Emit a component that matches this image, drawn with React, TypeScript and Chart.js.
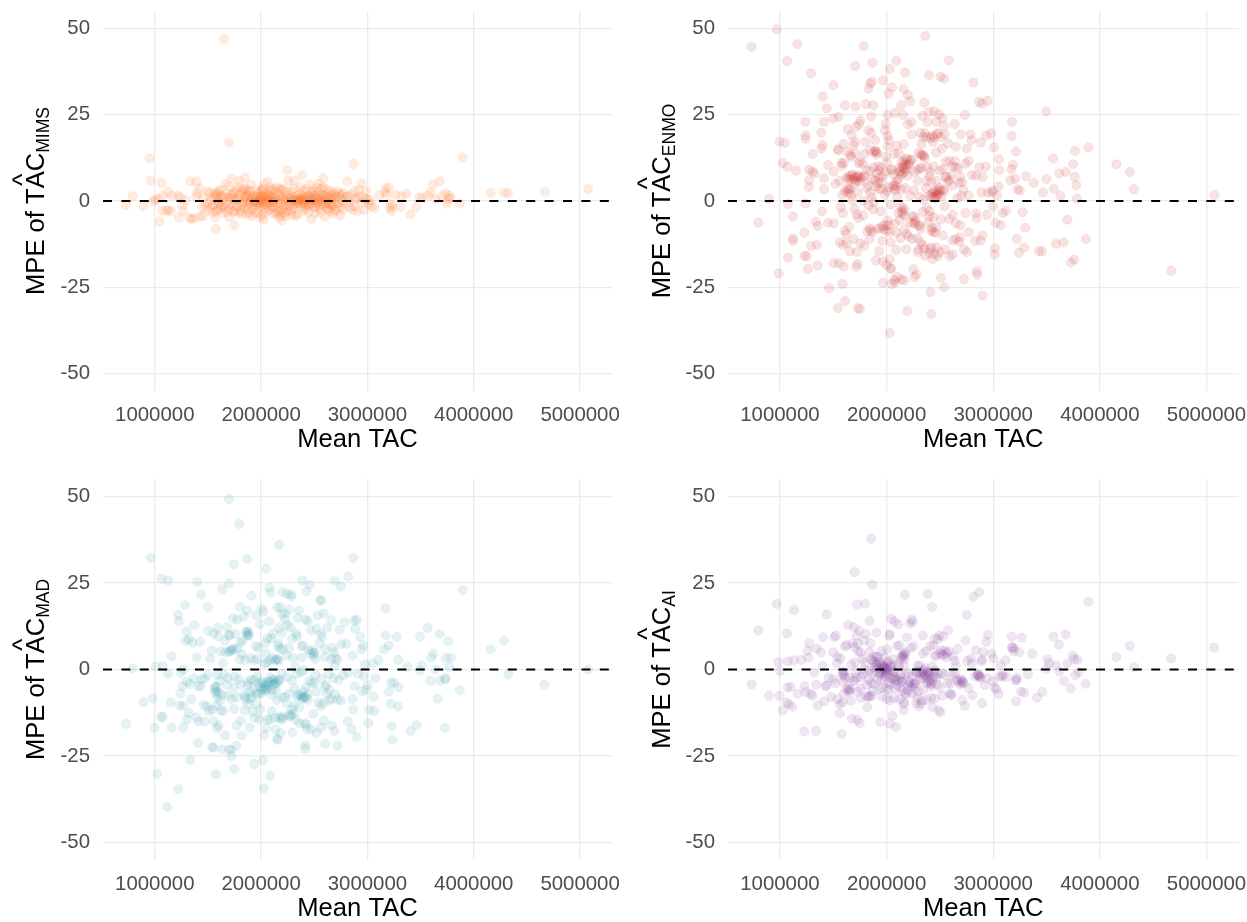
import React, { useEffect, useRef } from "react";
import { Chart, registerables } from "chart.js";

Chart.register(...registerables);

const TAC_UNIT = 1000;
const tacTicks = [1000000, 2000000, 3000000, 4000000, 5000000];
const mpeTicks = [-50, -25, 0, 25, 50];
const xLimits = [513000, 5300000];
const yLimits = [-55, 55];

// [mean TAC in thousands, MPE]
const mimsPoints = [
[1653,46.9],[1698,16.9],[951,12.3],[3895,12.6],[2868,10.7],[2245,8.9],[2389,7.5],[2585,6.6],[1721,6.6],[1849,6.8],[1793,5.8],[962,5.9],[1064,5.3],[1332,5.7],[1392,5.6],[2811,5.7],[2944,5.1],[3680,5.7],[3615,4.8],[4159,2.3],[4283,2.5],[4321,2.3],[4668,2.7],[5076,3.5],[1125,2.7],[792,1.4],[728,-1.2],[894,-1.5],[1045,-6],[1574,-8.1],[1747,-7.1],[3404,-3.9],[3461,-1.8],[3868,-0.7],
[989,-0.2],[1000,0.5],[1030,0.6],[1075,1.4],[1110,-2.8],[1070,-2.8],[1150,-3],[1160,1.6],[1125,-2.6],[1220,1.5],[1240,1],[1225,-4.8],[1260,-1.2],[1265,-2.9],[1290,0.3],[1330,-5],[1345,-5.2],[1370,-5],[1390,1.2],[1400,2.4],[1420,3.6],[1430,-4.5],[1445,-1.8],[1455,-4.3],[1460,0.8],[1500,2.8],[1520,2.4],[1540,-1.6],[1555,1.2],[1570,-4.8],[1575,-3],[1580,2.4],[1590,0.6],[1600,-0.8],[1610,2.8],[1620,-2.2],[1625,1.6],[1640,0.4],[1655,-1.8],[1665,5],[1680,-3.2],[1695,4.2],[1700,-4.6],[1715,2],[1725,0.8],[1735,-1.3],[1745,2.4],[1755,-2.8],[1770,0.5],[1780,4],[1790,-3.4],[1800,1.6],[1815,-0.6],[1825,3],[1835,-2],[1845,0.9],[1855,3.8],[1860,1.8],[1870,2.8],[1880,-1],[1885,0.3],[1895,-3.4],[1905,4.8],[1915,1.1],[1925,-1.4],[1935,0.1],[1945,-3.5],[1955,1.4],[1965,-0.4],[1975,2.2],[1985,-1.8],[1995,0.6],[2000,-0.2],[2010,3.2],[2015,-4],[2020,1.2],[2025,-5.4],[2030,4.8],[2040,0.3],[2045,-1.1],[2055,2.2],[2060,5.6],[2070,0.8],[2075,-2.4],[2085,1.6],[2090,-0.4],[2100,3.2],[2110,0.1],[2120,-1.8],[2130,1.2],[2135,-3.6],[2145,4],[2150,-0.7],[2160,2.4],[2165,-4.8],[2175,0.6],[2180,-2.8],[2190,3.2],[2195,-5.6],[2205,1],[2215,-1.5],[2225,0.2],[2235,2.6],[2245,-3],[2255,5.8],[2265,0.9],[2275,-1.2],[2285,2.8],[2295,0.3],[2305,-2.2],[2315,5.9],[2325,-4.4],[2335,1.4],[2345,-0.8],[2355,0.4],[2365,2],[2375,-1.6],[2385,0.7],[2395,-2.9],[2405,1.2],[2415,-0.3],[2425,3.4],[2435,0.5],[2445,-1.4],[2455,4.8],[2465,1.8],[2470,-5.2],[2480,0.2],[2490,3],[2500,-1.8],[2510,0.7],[2520,-0.4],[2530,2.6],[2540,5],[2550,-2.2],[2560,0.9],[2570,3.6],[2580,-0.6],[2590,1.5],[2600,-4.6],[2610,0.3],[2620,-2],[2630,1.9],[2640,-0.9],[2650,2.8],[2660,-1.3],[2670,0.5],[2680,2.2],[2690,-2.6],[2700,0.9],[2715,2.9],[2730,-0.4],[2745,-4.2],[2760,1.6],[2775,2.3],[2790,-0.9],[2815,1.4],[2835,-1.8],[2860,-2.6],[2875,2.8],[2890,0.6],[2905,-3],[2920,3.2],[2945,1.2],[2965,-2.6],[2990,2.8],[3000,0.4],[3015,-0.8],[3040,-1.6],[3065,-2.1],[3110,1.6],[3165,2.6],[3175,3.6],[3200,3.9],[3210,-2],[3225,-2.9],[3235,-1.5],[3265,1.9],[3310,-1.8],[3320,1.4],[3365,2],[3490,1],[3515,0.9],[3570,1.6],[3595,2.4],[3640,0.4],[3700,1.4],[3735,2.2],[3745,-0.8],[3760,0.5],[3770,1.5],[3780,0.9]
];
const mimsCorePoints = [
[1530,0.4],[1560,-1],[1585,1.6],[1605,-0.2],[1630,-1.4],[1650,1.2],[1670,-0.6],[1690,0.9],[1710,-0.9],[1730,1.6],[1750,0.2],[1775,-1.6],[1795,0.4],[1810,2.2],[1830,-1],[1850,-0.2],[1865,1.2],[1875,-2.4],[1890,1.7],[1900,-0.6],[1910,0.5],[1920,-2.2],[1930,1.5],[1940,-0.4],[1950,0.2],[1958,-1.2],[1968,1],[1978,-0.6],[1988,0.5],[1998,1.4],[2005,-1.2],[2012,0.3],[2022,-0.5],[2032,1.8],[2038,-2.2],[2048,0.9],[2052,-0.2],[2062,-1.4],[2068,1.5],[2078,-0.4],[2082,2.6],[2095,0.5],[2105,-1.2],[2115,1],[2125,-0.3],[2140,0.7],[2155,-2],[2170,1.6],[2185,-0.8],[2200,-2.4],[2210,0.4],[2222,-3.4],[2232,-0.6],[2242,0.9],[2252,-1.6],[2262,1.8],[2272,-0.2],[2282,-2.8],[2292,1.1],[2302,0.2],[2312,-0.9],[2322,0.6],[2332,-0.2],[2342,0.5],[2352,-0.6],[2362,0.2],[2372,1],[2382,-0.4],[2392,0.3],[2402,-0.8],[2412,0.7],[2422,-1.2],[2432,1.5],[2442,-0.3],[2452,0.6],[2462,-1],[2472,1.2],[2482,-0.6],[2492,0.4],[2502,1.8],[2512,-1.4],[2522,0.9],[2532,-0.5],[2542,0.3],[2552,1.5],[2562,-1.2],[2572,0.4],[2582,1.8],[2592,-1.6],[2602,0.7],[2612,-0.7],[2625,1.2],[2635,-2.4],[2645,0.5],[2655,-0.4],[2665,1.4],[2675,-1],[2695,1.8],[2710,-0.6],[2725,1],[2740,-1.8],[2770,0.2],[2800,1.2],[2825,-0.2],[2850,1.8],[2880,-1.4],[2910,1],[2950,-0.5],[2980,0.6],[3030,0.2],[3180,1.7],[3220,-1],
[1480,-1.6],[1500,-0.6],[1510,-2.4],[1545,-3.4],[1565,2],[1595,-2.4],[1615,3.2],[1645,-3.4],[1675,2],[1705,-2.2],[1740,-3.2],[1765,3],[1805,-2.8],[1820,-3.6],[1842,3.4],[1868,-3.8],[1898,3],[1912,-4.4],[1952,3.2],[1972,-3.4],[1992,-4.6],[2002,2.8],[2018,3.6],[2058,-3],[2088,3.8],[2112,-3.6],[2122,3.4],[2148,-3.2],[2178,3.6],[2188,-4.2],[2212,3.4],[2228,-4.4],[2288,-4],[2308,3.6],[2338,-3.8],[2368,3.8],[2398,3],[2418,-2.4],[2448,-3.2],[2478,2.6],[2508,-3.6],[2528,3.8],[2558,-3.4],[2588,4],[2618,3.2],[2648,-3],[2678,-3.6],[2708,-2.8],[2738,2.2],[2768,-2.4]
];

const enmoPoints = [
[734,44.6],[797,-6.3],[897,0.6],[970,49.7],[989,-21],[996,17.2],[1044,16.8],[1026,11],[1070,9.9],[1066,40.5],[1074,-0.9],[1074,-16.4],[1122,-4.5],[1122,-10.8],[1125,-11.6],[1151,8.8],[1162,45.4],[1229,-9.2],[1229,-15.8],[1240,19],[1240,18],[1240,-0.7],[1240,22.9],[1251,-16],[1262,-19.7],[1273,9],[1273,6],[1273,4],[1292,36.9],[1292,-13],[1306,13.6],[1306,8.5],[1325,8],[1336,-6],[1347,-12.7],[1354,-7.2],[1354,-18.7],[1402,30.3],[1387,19.8],[1399,16.2],[1389,15.2],[1395,-3],[1413,22.9],[1413,6.6],[1413,3.4],[1439,26.8],[1450,10.4],[1450,-6.3],[1461,-25.2],[1498,23.9],[1502,33.5],[1505,-6.5],[1505,-18],[1505,8.5],[1520,5],[1542,15],[1550,24.4],[1542,-31],[1553,-18],[1561,-12],[1579,11],[1587,-24],[1590,-12.7],[1598,-19],[1609,27.7],[1612,-29],
[1786,44.8],[1867,40],[1705,39.1],[2092,40.6],[2030,38.2],[2173,37.2],[2362,47.8],[2399,36.4],[2506,36],[2539,35.4],[2583,40.7],[2815,34.3],[1967,34.9],[1863,34.5],[1845,34],[1830,32.5],[2052,32.9],[2018,31.1],[2159,32.4],[2199,30.7],[2221,28.9],[2137,27.7],[1808,28],[1875,27.7],[1708,27.4],[2354,28.5],[2867,28.7],[2897,28.2],[2948,29],[3498,25.9],[2011,24.9],[2081,25.5],[2159,24.9],[2336,24.6],[2395,25.8],[2446,26],[2491,25.1],[2524,24],[2734,24.9],[3177,22.9],[1856,24.5],[1753,23.3],[1742,22.3],[1716,21.5],[1635,20.8],[1830,20.5],[1856,19.7],[1993,22.3],[1985,20.5],[2232,22.8],[2199,22.2],[2384,22.8],[2465,22.9],[2539,21.7],[2638,22.3],[2236,19.3],[2317,19.7],[2358,19.6],[2428,18.9],[2483,19.6],[2546,19.3],[2694,19.3],[2786,19.3],[2982,19.6],[3174,18.8],[2934,18.9],[1672,19.1],[1708,17.1],[1801,17.1],[1893,17.6],[2011,18.8],[2022,17.6],[2011,15.7],[2162,16.5],[2328,16.5],[2435,17.1],[2576,16.7],[2650,15.7],[2797,17.6],[2882,16.9],[3007,15.5],[2753,15.2],[3768,14.5],[3893,15.5],[3214,14.3],[1598,16.5],[1550,14.7],[1708,13.8],[1661,13.3],[1793,13.6],[1900,14.3],[1911,14],[1993,12.8],[2114,13.8],[2343,13.3],[2465,14],[2520,15.2],[3561,12.3],[3055,12.1],
[1738,10.9],[1750,11.4],[1600,11],[1580,10.2],[1650,6.6],[1670,7.4],[1690,6.3],[1720,6.9],[1740,7.1],[1760,6.5],[1790,7.2],[1810,9],[1840,8.7],[1880,9.8],[1905,8],[1930,8.9],[1960,7.2],[1990,8.5],[2020,4],[2045,8.9],[2070,3.5],[2090,4.2],[2110,6.4],[2130,8.6],[2150,9.9],[2160,11.5],[2175,8.5],[2185,10.3],[2195,12.2],[2200,7.4],[2215,11],[2240,12],[2260,8.4],[2290,9],[2320,13.5],[2350,13],[2380,9.8],[2410,8.4],[2440,10],[2470,5.8],[2500,8.8],[2530,9.2],[2555,11.4],[2590,11.6],[2620,10],[2650,9.8],[2680,5.2],[2710,5.5],[2740,10.8],[2770,11.6],[2800,7.5],[2840,7.3],[2870,9.8],[2900,7],[2930,9.9],[3055,8.9],[3050,4.2],[3160,6],[3170,9.2],[3185,10.5],[3205,6.4],[3230,3.4],[3250,3],[3310,7.2],[3380,5.2],[3465,2.5],[3500,6.3],[3570,3.5],[3620,8],[3630,1.5],[3680,8.4],[3750,10.6],[3765,7],[3780,4.6],[3785,0.7],[4155,10.6],[4280,8.4],[4320,3.4],[5075,1.7],[2950,2.4],[2890,2.4],[2990,2.5],[2995,3],[3035,1.6],
[1560,5.8],[1585,1.8],[1610,2.8],[1630,3.6],[1650,3.2],[1680,0.3],[1700,5],[1730,2.5],[1780,0],[1830,4.5],[1860,1],[1880,-0.5],[1920,5.2],[1950,3.5],[1985,1.8],[2005,2.8],[2040,-1],[2065,7.7],[2100,1.2],[2140,3.3],[2175,3.8],[2220,1.6],[2255,3.1],[2290,5.8],[2310,1.1],[2345,0.5],[2370,3.7],[2400,1.5],[2425,2],[2445,1.3],[2465,2.5],[2485,1.7],[2505,3],[2530,3.3],[2560,6.8],[2590,6],[2620,4.5],[2665,0.8],[2700,1.5],[2770,1.6],
[1570,-1.8],[1590,-3.5],[1610,-8.6],[1620,-9.6],[1650,-7.5],[1700,-2.3],[1720,-3.9],[1735,-5],[1780,-4.2],[1820,-8.8],[1850,-8.5],[1875,-2.4],[1915,-8],[1945,-3],[1965,-7.2],[1990,-7],[2010,-5.6],[2030,-9],[2075,-6.5],[2110,-3.5],[2130,-1.5],[2150,-3.7],[2170,-2.8],[2190,-9.5],[2220,-6.2],[2245,-4.4],[2265,-6.4],[2290,-10.8],[2310,-7.2],[2340,-3.2],[2375,-2],[2400,-4.5],[2415,-8.6],[2440,-4.7],[2465,-7.7],[2510,-5.4],[2545,-1.6],[2590,-5.2],[2620,-4],[2650,-6.5],[2690,-7],[2740,-3.5],[2770,-9],[2840,-3.6],[2845,-5],[2940,-4],[3000,-1.6],[3025,-6.3],[3070,-7],[3090,-3.5],[3120,-2.8],[3275,-3.3],[3300,-7.7],[3695,-5.4],
[1625,-12.2],[1655,-14.5],[1690,-11],[1720,-14.8],[1755,-12.3],[1790,-13],[1840,-11],[1930,-14.5],[1960,-11.5],[2040,-12],[2090,-14.2],[2130,-10.7],[2185,-14],[2240,-11],[2290,-14.8],[2320,-12],[2355,-13.7],[2400,-15],[2420,-13.5],[2450,-15.3],[2480,-16],[2530,-10],[2590,-16],[2620,-15.5],[2650,-11],[2690,-10.5],[2725,-14],[2755,-14.8],[2830,-11.5],[2880,-11.5],[2900,-10],[3015,-13.7],[3015,-15.5],[3220,-11],[3240,-15],[3290,-13.5],[3430,-14.5],[3460,-14.5],[3590,-12.4],[3660,-12],[3730,-17.8],[3760,-17],[3870,-11],[4670,-20.2],
[1715,-19],[1730,-18.2],[1900,-17.2],[1965,-17.5],[2000,-18.5],[2030,-16.9],[2035,-19.5],[2045,-19.6],[2070,-22.8],[2100,-22],[2140,-22.7],[2165,-23],[2250,-19.7],[2260,-22],[2280,-21.3],[1965,-23.7],[2080,-23.5],[2050,-24],[2510,-22.3],[2540,-25],[2725,-22.6],[2845,-20.3],[2850,-21.3],[2900,-27.4],[2410,-26.4],[1730,-31],[1750,-31.3],[2195,-31.8],[2420,-32.7],[2030,-38.2]
];
const enmoCorePoints = [
[1625,6.5],[1640,7.2],[1660,6.2],[1680,7.6],[1700,6.8],[1715,5.8],[1730,7.4],[1750,5.6],[1770,6.8],[1640,2.4],[1655,3.5],[1665,1.8],[1860,6.4],[1890,6],[1900,4.2],[1925,3.5],[1935,6.7],[1950,5.5],[1880,14.2],[1895,14.6],[1905,13.4],[2140,11.2],[2150,8],[2160,9.5],[2170,10.6],[2180,12.2],[2190,9.4],[2205,10.4],[2225,11.8],[2115,8.4],[2125,9.6],[2135,7.6],[2060,4.4],[2075,4.8],[2085,3.2],[2095,5.6],[2140,-3],[2155,-2],[2165,-4.2],[2250,-6.5],[2260,-4.6],[2270,-5.6],[2300,-7],[2320,-8],[2425,1.2],[2435,2.5],[2450,2.9],[2460,0.8],[2470,1.6],[2480,3.2],[2490,2.2],[2495,3.8],[2515,1.4],[2540,3],[2425,-7.8],[2440,-9],[2455,-9.2],[2390,-6.2],[2405,-3],[2330,9.6],[2310,9.4],[2360,12.4],[2375,5.8],[2400,7.2],[2420,5.5],[2555,7],[2575,5.6],[2605,7.4],[2640,11.5],[2670,9.4],[2690,7],[2720,3.2],[2300,14],[2330,13.2],[2345,18.4],[2375,18.6],[2410,18.2],[2445,18.4],[2470,19.4],[2510,18.6],[1830,-1.3],[1845,2.2],[1815,3.8],[1840,-8],[1870,-9],[1945,-7.8],[1975,-8.2],[2005,-8.6],[2020,-7],[2095,-9.2],[2125,-5.5],[2165,-8.2],[2205,-10.2],[2300,-14],[2340,-12.8],[2360,-15.8],[2410,-14],[2430,-16.8],[2620,-11.4],[2680,-11.8],[2550,-14],[2500,-14.8],[2470,-13.4],[2005,11.2],[1950,9.8],[1920,10],[1845,14.8],[1780,10.8],[1670,12.8],[1635,14.2],[1690,16.2],[2095,16],[2070,13.6],[2050,9.2]
];

const madPoints = [
[1698,49.2],[1793,42],[2170,36],[962,32.2],[1868,31.9],[2868,32.2],[1743,30.3],[2049,29.1],[1064,26.3],[1125,25.7],[2819,26.8],[2691,25.6],[2389,25.7],[2457,24.5],[2751,24],[1400,25.3],[1698,24.9],[1634,23.1],[2076,23.6],[3895,22.9],[2427,22.6],[2200,22.4],[2087,22.2],[2242,21.8],[2283,21.7],[2285,21],[1434,21.7],[1910,21.3],[2556,20],[2566,20],[1498,18],[1283,18.6],[1800,18.1],[3170,17.6],
[1117,-39.7],[1219,-34.6],[2026,-34.3],[1023,-30.1],[1574,-30.2],[2083,-30.7],[1747,-28.7],[1936,-27.3],[2019,-26.2],[1332,-26.1],[1721,-25],[2415,-22.9],[2415,-21.9],[2604,-21.5],[2721,-22],[1540,-22.4],[1550,-22.6],[1634,-23.1],[1698,-23.1],[1720,-23.2],[1766,-22],[1408,-21.2],[2151,-20],[2155,-20.3],[3234,-20.2],[2895,-19.5],[728,-15.7],[996,-16.9],[1060,-13.7],[1075,-13.7],[1158,-16.7],[1268,-16.8],[3404,-17.8],[3461,-16.1],[3729,-16.9],[3227,-16.3],[3008,-15.5],[3660,-8.4],[3287,-10.7],[3219,-9.9],[3868,-6],[4664,-4.4],[4325,-1.4],[5076,0],[4159,5.8],[4283,8.4],[792,0.3],[894,-9.4],[981,-8.4],
[1010,0.9],[1075,1],[1125,-1.2],[1158,3.8],[1219,15.8],[1225,14],[1240,-6.9],[1245,-1],[1270,0],[1300,11],[1290,8.3],[1320,8.7],[1355,7.8],[1375,12.8],[1395,3.5],[1425,8],[1440,-2.8],[1470,-2.6],[1500,11.2],[1520,3.2],[1535,5.5],[1555,10.4],[1590,12],[1600,9.6],[1620,5.2],[1665,5],[1680,12.2],[1700,9.8],[1720,5.4],[1735,14.8],[1745,5.8],[1755,10.2],[1775,14.4],[1805,7.8],[1820,4.4],[1840,15.3],[1860,11],[1870,17],[1880,10.2],[1885,9.8],[1900,3.3],[1935,2.7],[1955,15.6],[1975,6.2],[1990,13],[2005,17.6],[2020,16.7],[2040,7.6],[2055,2],[2075,13.9],[2095,9],[2110,3.3],[2130,2.6],[2150,17.9],[2165,7.6],[2180,18],[2195,16],[2205,5.8],[2225,14.5],[2245,12.8],[2265,17.2],[2275,12.2],[2300,3.5],[2330,10.4],[2340,9.6],[2355,17],[2380,6.8],[2395,6.9],[2415,14.4],[2445,5.6],[2470,11.2],[2490,4.8],[2505,4.9],[2520,11.8],[2530,15.6],[2560,10.2],[2575,9.4],[2590,16.2],[2600,3.6],[2620,12],[2660,14.3],[2670,6.3],[2685,5],[2700,3.3],[2740,11.5],[2755,7.3],[2785,13.7],[2800,7.4],[2860,4],[2875,14.2],[2885,11.8],[2900,14.4],[2945,5.9],[2930,9.5],[2960,7],[2980,1.5],[3050,1.7],[3105,2.8],[3155,5.8],[3170,9.9],[3200,6.9],[3275,9.4],[3290,2.8],[3375,0.8],[3495,9.5],[3510,1.2],[3565,12],[3600,3.4],[3620,4.6],[3640,0],[3680,10.2],[3735,3.3],[3760,8.2],[3785,3.4],[3770,0.8],[3490,-0.3],
[1150,-9.5],[1235,-10.4],[1270,-10.5],[1300,-14.4],[1320,-12.6],[1345,-8.6],[1390,-13.8],[1410,-15],[1430,-4.8],[1460,-10.2],[1470,-15],[1490,-10.7],[1510,-12],[1540,-11.5],[1555,-15],[1570,-5],[1575,-6.2],[1585,-17],[1600,-16.2],[1615,-9],[1630,-7.3],[1645,-12],[1660,-19],[1680,-4.4],[1725,-8.5],[1745,-11.4],[1770,-16.2],[1790,-2.8],[1810,-14.8],[1820,-19],[1850,-8],[1870,-4.5],[1895,-16.8],[1920,-12.2],[1940,-14],[1955,-7],[1975,-4],[1990,-11.5],[2005,-5.6],[2030,-19],[2045,-16.9],[2060,-3.5],[2080,-14.4],[2100,-12],[2115,-4.2],[2135,-17.3],[2150,-8.8],[2165,-3],[2185,-18.4],[2205,-14],[2225,-7.9],[2240,-9.8],[2260,-13.4],[2275,-12.9],[2295,-18.2],[2310,-10.6],[2330,-14.5],[2345,-7.3],[2360,-15.5],[2385,-7.9],[2400,-8],[2420,-16],[2440,-8.8],[2470,-17.3],[2500,-3.8],[2520,-18.3],[2540,-9.5],[2565,-16.8],[2590,-14.8],[2610,-4.5],[2640,-8.9],[2665,-16.2],[2690,-17.8],[2720,-8.6],[2750,-9],[2815,-15],[2850,-17.2],[2868,-11.5],[2860,-8.5],[2880,-4.8],[2950,-6.3],[3000,-4.5],[3015,-11.7],[3065,-12],[3060,-7.8],[3075,-2.5],[3200,-6.4],[3220,-3.8],[3250,-3.8],[3290,-5.1],[3590,-3.3],[3680,-3.2],[3735,-2.7],[3730,-2.7],
[1260,-4.8],[1300,-3.5],[1330,-4.2],[1370,-2.6],[1410,-4.8],[1500,-1.5],[1590,-1.6],[1610,-3.2],[1650,-1.5],[1690,-2.5],[1750,-2.1],[1810,-4.3],[1840,-7.1],[1880,-3.6],[1900,-6.4],[1930,-5.7],[1960,-2],[1985,-4.8],[2015,-4.1],[2035,-5.4],[2050,-6],[2065,-4.6],[2085,-2.2],[2105,-6],[2125,-3],[2140,-3.9],[2155,-3.6],[2175,-3],[2195,-1.2],[2245,-2.2],[2290,-3.2],[2330,-1.2],[2375,-0.8],[2420,-5.2],[2455,-3.2],[2480,-3.9],[2510,-1.5],[2570,-2.5],[2600,-5],[2640,-1.3],[2680,-2.5],[2730,-3],[2770,-1.7],[2820,-1],[2910,-1.3],[2965,-1.9],[2990,-5.9]
];
const madCorePoints = [
[1560,-5.5],[1570,-6.8],[1580,-5],[1590,-8],[1600,-6.6],[1580,-10.5],[1695,5],[1710,5.5],[1730,6],[1700,10],[1860,10.6],[1870,9.8],[1880,11],[1855,-8.8],[1880,-10],[1910,-8],[1935,-3],[1975,-7],[2000,-7],[2010,-3.4],[2025,-6],[2040,-4.5],[2055,-5.5],[2070,-3.8],[2090,-3.4],[2110,-3],[2120,-4.5],[2140,-5.8],[2155,2.9],[2165,2.5],[2145,3],[2160,6.8],[2175,5.9],[2185,-13.5],[2195,-14.5],[2280,-13.5],[2290,-11.6],[2300,-13],[2340,-8],[2370,-7.4],[2385,-8.5],[2395,-6.5],[2410,-8.2],[2425,-8],[2440,-7],[2415,-15.5],[2430,-17.2],[2460,4.6],[2480,5.6],[2495,4],[2510,3],[2380,3.4],[2400,-0.2],[2345,14.8],[2440,14],[2170,12],[2110,10.4],[2060,9],[2045,4.6],[1965,3],[1950,6.8],[2030,1.6],[2080,2.6],[2225,16.2],[2195,10.5],[2240,4],[2260,6.2],[2290,8.9],[2320,0.8],[2550,7.6],[2600,6],[2660,3],[2690,1],[2720,2.8],[2645,-6],[2665,-8.6],[2695,-7.2],[2615,-7],[2585,-9.8],[2560,-10.5],[2520,-6.3],[2490,-12.8],[2360,-11],[2315,-5.5],[2260,-7],[2190,-8],[2170,-14],[2130,-14],[2100,-7.3],[2060,-14.5],[1985,-14.4],[1960,-10],[1905,-3],[1895,-8.4],[1845,-11.8],[1770,-8],[1745,-5.2],[1690,-7.5],[1620,-11.8],[1640,1.8],[1660,8.3],[1780,6],[1800,3],[1825,8.3],[1850,2.7]
];

const aiPoints = [
[1856,37.8],[1701,28.1],[1867,24.5],[2867,22.3],[2815,21],[2387,21.8],[2173,21.6],[3893,19.6],[970,18.9],[1723,18.7],[1797,19],[2428,18],[1133,17.2],[1439,15.9],[2753,15.7],[797,11.3],[1066,10.4],[1229,-17.9],[1339,-17.7],[1579,-18.6],[1941,-15.2],[2089,-16.6],[2030,-15.7],[1723,-14.5],[1749,-15.5],[1672,-14.2],[1561,-12.7],[1026,-11.8],[734,-4.3],[897,-7.6],[996,-7.6],[3410,-8.1],[3461,-6.5],[3214,-9.2],[2897,-9.7],[2734,-10.5],[3867,-4.1],[3727,-5.5],[3664,-3.3],[4668,3.2],[5070,6.3],[4281,6.8],[4155,3.6],[4321,0.7],[3679,10.1],[3565,9.5],[3616,7.2],[3365,4.6],[3266,9.2],[3174,9.5],
[985,2.2],[1000,-0.4],[1075,2.4],[1070,-5.2],[1100,-5],[1060,-9.5],[1085,-10],[1115,-10.8],[1130,2.6],[1165,-7],[1200,2.8],[1230,-4.8],[1240,-6.5],[1260,5.4],[1275,7.6],[1265,3.4],[1290,-7],[1305,-7.6],[1320,-0.9],[1340,-4.4],[1345,6],[1355,-10.4],[1385,4.9],[1400,1],[1405,9.3],[1415,-9.2],[1425,-4.8],[1440,-4.6],[1455,-2.3],[1480,-7.9],[1500,5],[1510,9.3],[1525,9.8],[1535,1.8],[1540,-8.5],[1560,-10],[1570,3.2],[1585,-0.8],[1600,-1.6],[1610,6.6],[1625,-5.4],[1640,12.8],[1650,-5.5],[1665,-9],[1680,7.6],[1695,12.2],[1710,-0.7],[1720,9.8],[1735,5.2],[1745,11.2],[1760,-8.2],[1775,3],[1790,8.3],[1805,10.2],[1820,-10.9],[1830,-7.9],[1840,14],[1850,7.5],[1865,-1.2],[1880,3.8],[1890,2.2],[1905,10.6],[1915,-2.8],[1930,-1],[1945,1.6],[1960,-0.2],[1975,0.6],[1985,-2],[1995,0.1],[2010,1.8],[2025,9.8],[2035,-4.2],[2045,14.6],[2055,-13.4],[2065,3],[2075,13.9],[2090,-2.6],[2100,6.8],[2110,13],[2125,-5.2],[2140,-3.6],[2155,3.6],[2160,-11.8],[2170,4.2],[2180,-1.5],[2190,9.2],[2200,-6],[2220,13.2],[2235,14.4],[2245,13.8],[2255,6.7],[2265,-3.8],[2280,-9.8],[2290,1],[2305,-10.6],[2315,-3],[2325,-9.7],[2340,9.8],[2355,-1.8],[2370,5.3],[2385,-0.6],[2395,-3.5],[2410,-4.1],[2420,-8.2],[2430,-10.9],[2440,7],[2455,3.8],[2470,-2.5],[2480,8.8],[2490,-11.8],[2505,-12.4],[2515,5.5],[2530,9.5],[2545,-1.6],[2560,3.5],[2575,11.3],[2590,-6.8],[2610,-7.2],[2625,3.8],[2640,-1.2],[2665,6],[2680,-3.5],[2695,-2.7],[2710,-8.8],[2725,-4],[2740,8.4],[2770,-5.4],[2790,3.2],[2805,-7.5],[2835,5.6],[2850,-1.6],[2880,-2.1],[2890,2.4],[2905,5],[2920,-4.5],[2935,8],[2950,10],[2985,4.6],[3000,3.2],[3030,-5.7],[3050,-7.1],[3070,1.2],[3085,-2],[3115,2.6],[3125,-2.2],[3175,6.3],[3195,6.1],[3220,-3],[3260,-6.4],[3245,5],[3290,-6.6],[3325,-1.4],[3500,0.2],[3510,3],[3525,1.8],[3590,1.2],[3620,-0.6],[3695,1.7],[3745,4],[3770,-1.7],[3790,2.8],[3760,3],[3800,-0.8],
[1540,3.6],[1590,-3.5],[1625,7.1],[1655,-2.4],[1670,1.5],[1685,-3.3],[1705,2.1],[1730,-6.5],[1755,4.9],[1780,-1.3],[1800,2],[1815,-4.5],[1835,-0.3],[1855,-3.9],[1870,-6.3],[1885,0.7],[1900,1.4],[1925,0.4],[1940,-1.8],[1955,-3],[1970,1.2],[1980,3.4],[2000,-1.4],[2015,-3.8],[2030,-9],[2040,0.7],[2060,-2.8],[2070,-0.8],[2085,-5.5],[2105,1.4],[2120,0.9],[2135,3.2],[2145,4],[2150,-3.3],[2165,1.2],[2185,-7.2],[2205,-1],[2215,-3.5],[2230,-4.9],[2250,-4.2],[2275,-0.8],[2295,-6.4],[2310,1.2],[2330,-0.4],[2345,-2.5],[2365,-1.4],[2380,-3.9],[2400,-1],[2415,-4.8],[2425,0.9],[2450,-2],[2465,4.2],[2500,-5.2],[2525,-1],[2540,4.3],[2570,-4],[2600,-4],[2620,-1.8],[2650,1],[2690,-4.4],[2710,-3.2],[2755,2.5],[2800,1.8],[2830,-2],[2860,-1.3],[2870,-1.8],[2895,2.9],[2940,-2.5],[3000,-3.4],[3010,-5.2],[3060,-2],[3090,-1.5],[3210,-3.2]
];
const aiCorePoints = [
[1590,-1.5],[1600,-0.6],[1610,-2.4],[1640,-6],[1650,-6.5],[1660,-5.8],[1760,-2.2],[1790,0],[1830,-2.8],[1855,3],[1870,2.5],[1880,-4.2],[1890,-0.4],[1905,3.6],[1915,1.3],[1930,2.2],[1945,-0.6],[1955,1],[1965,0.5],[1975,-1],[1985,0.8],[1990,-0.6],[2000,0.4],[2005,-0.2],[2015,2.4],[2020,-1.2],[2030,0.8],[2040,-2.4],[2050,1.4],[2060,-0.4],[2070,-2],[2080,-3.2],[2095,-4.4],[2115,-3.2],[2130,-1.6],[2150,3.9],[2160,4.6],[2170,3],[2180,5],[2135,-2.4],[2200,-4.5],[2220,-4],[2240,-2],[2260,-5.4],[2270,-4.2],[2285,-1.2],[2300,-0.6],[2320,-1.4],[2335,-1],[2350,-0.2],[2365,0.4],[2375,-2.2],[2385,-1.6],[2395,-1],[2405,-2.8],[2420,-4.2],[2430,-3.4],[2440,-1.4],[2455,-0.3],[2480,-1.2],[2500,4.8],[2520,4.2],[2545,5.4],[2565,4.8],[2585,5.2],[2605,-7.5],[2640,2.5],[2660,-3],[2700,-3.8],[2715,-3.5],[2860,-1.8],[2875,-2.4],[2330,-9],[2345,-6],[2160,-10],[2165,-9.5],[2175,-6.8],[2150,-6.2],[2020,-6],[2000,-8.5],[1955,-7.8],[1930,-5.6],[1840,-7.6],[1810,-7.8],[1755,-5.5],[1700,-3.2],[1720,-2.3],[1500,-2.8],[1520,-4],[1590,-9.5],[1600,-7],[1700,6.5],[1730,7.4],[1840,5],[1860,-7.7],[1920,3.6],[1950,5.3],[2005,5.8],[2030,10.2],[2120,7],[2225,6.2],[2340,4.6],[2410,6.8],[2450,9],[2495,9.8],[2520,-7.6],[2475,-4.4],[2450,-8.4],[2375,-8.8],[2290,-8.2],[2240,-7],[2125,-8.6],[2075,-8.2],[2005,-5.6],[1960,-5.2],[3180,6.5],[3190,5.3],[3220,-2.4]
];

const panels = [
  { points: [...mimsPoints, ...mimsCorePoints], color: "rgba(255,105,20,0.13)", rim: "rgba(255,105,20,0.07)", sub: "MIMS", left: 0, top: 0, plotLeft: 103, plotRight: 612, plotTop: 11, plotBottom: 391, baseline: 44, width: 623 },
  { points: [...enmoPoints, ...enmoCorePoints], color: "rgba(200,40,40,0.13)", rim: "rgba(200,40,40,0.07)", sub: "ENMO", left: 623, top: 0, plotLeft: 105, plotRight: 615.5, plotTop: 11, plotBottom: 391, baseline: 46.5, width: 624 },
  { points: [...madPoints, ...madCorePoints], color: "rgba(40,145,165,0.12)", rim: "rgba(40,145,165,0.06)", sub: "MAD", left: 0, top: 462, plotLeft: 103, plotRight: 612, plotTop: 17, plotBottom: 398, baseline: 44, width: 623 },
  { points: [...aiPoints, ...aiCorePoints], color: "rgba(125,50,150,0.12)", rim: "rgba(125,50,150,0.06)", sub: "AI", left: 623, top: 462, plotLeft: 105, plotRight: 615.5, plotTop: 17, plotBottom: 398, baseline: 46.5, width: 624 },
];

const FONT = '"Liberation Sans", Arial, sans-serif';

function noScalePadding(s: any) {
  s.paddingLeft = 0;
  s.paddingRight = 0;
  s.paddingTop = 0;
  s.paddingBottom = 0;
}

function Panel({ cfg }: { cfg: (typeof panels)[number] }) {
  const ref = useRef<HTMLCanvasElement>(null);
  useEffect(() => {
    const yTitle = {
      id: "yTitle",
      afterDraw(chart: any) {
        const { ctx, chartArea } = chart;
        const cy = (chartArea.top + chartArea.bottom) / 2;
        ctx.save();
        ctx.translate(cfg.baseline, cy);
        ctx.rotate(-Math.PI / 2);
        ctx.fillStyle = "#000";
        ctx.textBaseline = "alphabetic";
        ctx.textAlign = "left";
        const main = `25.6px ${FONT}`;
        const small = `17.5px ${FONT}`;
        ctx.font = small;
        const subW = ctx.measureText(cfg.sub).width;
        ctx.font = main;
        const headW = ctx.measureText("MPE of T").width;
        const aW = ctx.measureText("A").width;
        const cW = ctx.measureText("C").width;
        let x = -(headW + aW + cW + subW) / 2;
        ctx.fillText("MPE of T", x, 0);
        x += headW;
        ctx.fillText("A", x, 0);
        const hatW = ctx.measureText("^").width;
        ctx.fillText("^", x + (aW - hatW) / 2, -13.5);
        x += aW;
        ctx.fillText("C", x, 0);
        x += cW;
        ctx.font = small;
        ctx.fillText(cfg.sub, x, 5);
        ctx.restore();
      },
    };
    const chart = new Chart(ref.current!, {
      type: "scatter",
      data: {
        datasets: [
          {
            data: [
              { x: xLimits[0], y: 0 },
              { x: xLimits[1], y: 0 },
            ],
            showLine: true,
            borderColor: "#000",
            borderWidth: 2.2,
            borderDash: [9, 9.4],
            pointRadius: 0,
            order: 0,
          },
          {
            data: cfg.points.map(([x, y]) => ({ x: x * TAC_UNIT, y })),
            backgroundColor: cfg.color,
            borderColor: cfg.rim,
            borderWidth: 1,
            pointRadius: 4.7,
            order: 1,
          },
        ],
      },
      options: {
        animation: false,
        responsive: false,
        devicePixelRatio: 1,
        layout: { padding: { left: 0, top: cfg.plotTop, right: cfg.width - cfg.plotRight, bottom: 0 } },
        plugins: { legend: { display: false }, tooltip: { enabled: false } },
        scales: {
          x: {
            type: "linear",
            min: xLimits[0],
            max: xLimits[1],
            afterBuildTicks(s: any) {
              s.ticks = tacTicks.map((value) => ({ value }));
            },
            afterFit(s: any) {
              s.height = 460 - cfg.plotBottom;
              noScalePadding(s);
            },
            ticks: {
              color: "#4D4D4D",
              font: { family: FONT, size: 20.4 },
              padding: 12,
              maxRotation: 0,
              autoSkip: false,
              callback: (v: any) => String(v),
            },
            grid: { color: "#EBEBEB", lineWidth: 1.3, drawTicks: false },
            border: { display: false },
            title: {
              display: true,
              text: "Mean TAC",
              color: "#000",
              font: { family: FONT, size: 25.6 },
              padding: { top: 0, bottom: cfg.top ? -2 : 5 },
            },
          },
          y: {
            type: "linear",
            min: yLimits[0],
            max: yLimits[1],
            afterBuildTicks(s: any) {
              s.ticks = mpeTicks.map((value) => ({ value }));
            },
            afterFit(s: any) {
              s.width = cfg.plotLeft;
              noScalePadding(s);
            },
            ticks: {
              color: "#4D4D4D",
              font: { family: FONT, size: 20.4 },
              padding: 13,
              autoSkip: false,
            },
            grid: { color: "#EBEBEB", lineWidth: 1.3, drawTicks: false },
            border: { display: false },
          },
        },
      } as any,
      plugins: [yTitle],
    });
    return () => chart.destroy();
  }, [cfg]);
  return (
    <canvas
      ref={ref}
      width={cfg.width}
      height={460}
      style={{ position: "absolute", left: cfg.left, top: cfg.top, width: cfg.width, height: 460 }}
    />
  );
}

export default function App() {
  return (
    <div style={{ position: "absolute", left: 0, top: 0, width: 1247, height: 922, background: "#fff", overflow: "hidden" }}>
      {panels.map((p) => (
        <Panel key={p.sub} cfg={p} />
      ))}
    </div>
  );
}
